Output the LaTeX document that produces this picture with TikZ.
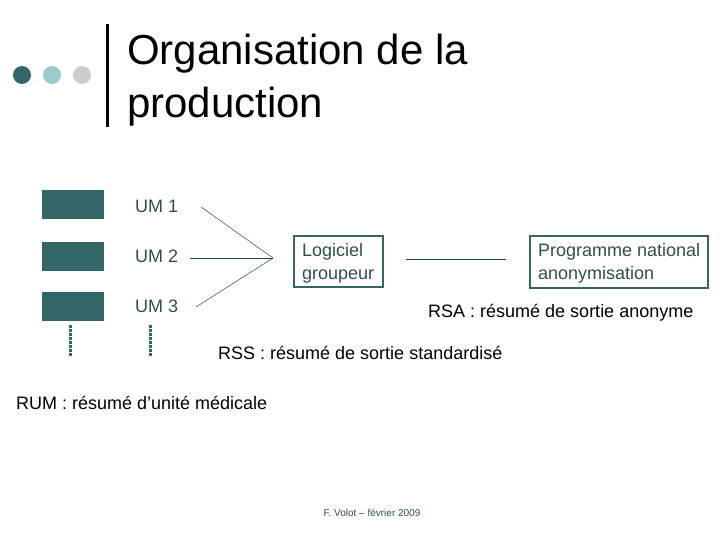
\documentclass[tikz,border=0pt]{standalone}
\usepackage{fontspec}
\setmainfont{Liberation Sans}
\definecolor{teal1}{HTML}{336666}
\definecolor{teal2}{HTML}{99CCCC}
\definecolor{grey1}{HTML}{CCCCCC}
\definecolor{txt}{HTML}{2F4F4F}
\begin{document}
\begin{tikzpicture}[x=1pt,y=-1pt,
  dot/.style={circle,fill=#1,minimum size=18pt,inner sep=0pt},
  umbar/.style={fill=teal1,minimum width=62pt,minimum height=29pt,inner sep=0pt},
  umlab/.style={anchor=west,text=txt,font=\fontsize{18}{20}\selectfont,inner sep=0pt},
  boxtext/.style={anchor=west,inner sep=0pt,align=left,text=txt,font=\fontsize{18}{23}\selectfont},
  frame/.style={draw=teal1,line width=1.6pt},
  conn/.style={draw=teal1!70!black,line width=0.5pt},
  note/.style={anchor=west,inner sep=0pt,font=\fontsize{18}{20}\selectfont},
  dots/.style={draw=teal1,line width=3pt,dash pattern=on 3pt off 1pt}]
\useasboundingbox[fill=white] (0,0) rectangle (720,540);
% header
\node[dot=teal1] (d1) at (22,75) {};
\node[dot=teal2] (d2) at (52,75) {};
\node[dot=grey1] (d3) at (82,75) {};
\draw[line width=3pt] (107,24) -- (107,127);
\node[anchor=west,inner sep=0pt,align=left,font=\fontsize{42}{53}\selectfont] (title) at (127,80) {Organisation de la\\production};
% UM blocks
\node[umbar] (b1) at (73,204.5) {};
\node[umbar] (b2) at (73,256.5) {};
\node[umbar] (b3) at (73,306.5) {};
\node[umlab] (u1) at (135,206) {UM 1};
\node[umlab] (u2) at (135,256) {UM 2};
\node[umlab] (u3) at (135,306) {UM 3};
\coordinate (m) at (273,258);
\coordinate (s1) at (201,207);
\coordinate (s2) at (190,258);
\coordinate (s3) at (196,307);
\draw[conn] (s1) -- (m);
\draw[conn] (s2) -- (m);
\draw[conn] (s3) -- (m);
\draw[dots] (70,325) -- (70,356);
\draw[dots] (150,325) -- (150,356);
% boxes
\draw[frame] (294,236) rectangle (383,287);
\node[boxtext] (log) at (302,263) {Logiciel\\groupeur};
\draw[frame] (530,236) rectangle (708,288);
\node[boxtext] (prog) at (538,263) {Programme national\\anonymisation};
\coordinate (l1) at (406,259);
\coordinate (l2) at (506,259);
\draw[conn] (l1) -- (l2);
% notes
\node[note] (rsa) at (428,313) {RSA : résumé de sortie anonyme};
\node[note] (rss) at (218,353) {RSS : résumé de sortie standardisé};
\node[note] (rum) at (16,403) {RUM : résumé d’unité médicale};
\node[inner sep=0pt,text=txt,font=\fontsize{10}{12}\selectfont] (foot) at (372,513) {F. Volot – février 2009};
\end{tikzpicture}
\end{document}
